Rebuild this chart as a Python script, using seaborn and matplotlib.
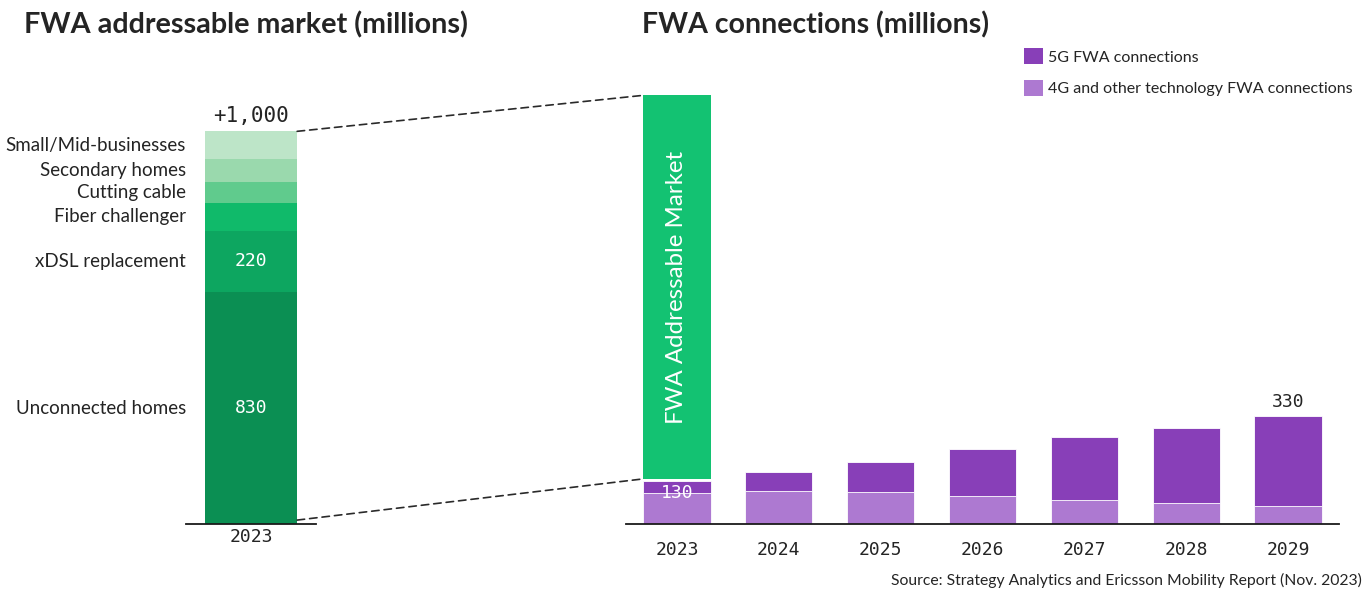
import matplotlib
matplotlib.use("Agg")
import matplotlib.pyplot as plt
from matplotlib.patches import Patch, ConnectionPatch
import numpy as np
import pandas as pd
import seaborn as sns

# ---- FWA addressable market, 2023 (millions), stacked bottom to top ----
segments = ["Unconnected homes", "xDSL replacement", "Fiber challenger",
            "Cutting cable", "Secondary homes", "Small/Mid-businesses"]
segment_values = [830, 220, 100, 75, 80, 100]
segment_colors = ["#0B8F53", "#0DA660", "#10BA6A", "#60CB8D", "#9AD9AD", "#BDE5C8"]
segments_with_value = ["Unconnected homes", "xDSL replacement"]
market_year = "2023"
market_total_label = "+1,000"

# ---- FWA connections (millions) ----
years = ["2023", "2024", "2025", "2026", "2027", "2028", "2029"]
fwa_4g_other = [95, 100, 98, 86, 73, 64, 55]
fwa_5g = [35, 60, 92, 144, 192, 231, 275]

# schematic addressable-market column drawn over the 2023 connections bar
addressable_bottom = 138
addressable_top = 1311

GREEN_MARKET = "#13C272"
PURPLE_5G = "#883FB8"
PURPLE_4G = "#AD79D1"
TEXT = "#242424"
MONO = "DejaVu Sans Mono"

sns.set_style("white")
plt.rcParams["font.family"] = ["Lato", "DejaVu Sans"]

W, H = 1371, 592
fig = plt.figure(figsize=(W / 100, H / 100), dpi=100)


def px_axes(x0, x1, y_top, y_bottom):
    return fig.add_axes([x0 / W, 1 - y_bottom / H, (x1 - x0) / W, (y_bottom - y_top) / H])


axL = px_axes(186, 316, 95, 524)
axR = px_axes(626, 1339, 95, 524)

# ---- left: stacked addressable market bar ----
cum = np.cumsum(segment_values)
for i in reversed(range(len(segments))):
    sns.barplot(x=[market_year], y=[cum[i]], color=segment_colors[i], width=0.71,
                saturation=1, linewidth=0, ax=axL)
axL.set_xlim(-0.5, 0.5)
axL.set_ylim(0, 1535)

for name, val, top in zip(segments, segment_values, cum):
    mid = top - val / 2
    axL.text(-0.5, mid, name, ha="right", va="center", fontsize=13.5, color=TEXT)
    if name in segments_with_value:
        axL.text(0, mid, f"{val}", ha="center", va="center", fontsize=13,
                 color="white", family=MONO)
axL.annotate(market_total_label, (0, cum[-1]), xytext=(0, 4), textcoords="offset points",
             ha="center", va="bottom", fontsize=15, color=TEXT, family=MONO)

# ---- right: stacked connections bars ----
df = pd.DataFrame({"year": years, "g4": fwa_4g_other, "g5": fwa_5g})
df["total"] = df["g4"] + df["g5"]
sns.barplot(data=df, x="year", y="total", color=PURPLE_5G, width=0.66, saturation=1,
            edgecolor="white", linewidth=0.6, ax=axR)
sns.barplot(data=df, x="year", y="g4", color=PURPLE_4G, width=0.66, saturation=1,
            edgecolor="white", linewidth=0.6, ax=axR)
axR.bar(0, addressable_top - addressable_bottom, bottom=addressable_bottom, width=0.66,
        color=GREEN_MARKET, linewidth=0)
axR.text(0, (addressable_top + addressable_bottom) / 2, "FWA Addressable Market",
         rotation=90, ha="center", va="center", fontsize=17.3, color="white")
axR.set_xlim(-0.5, 6.5)
axR.set_ylim(0, 1312)

axR.text(0, df["g4"].iloc[0], f"{df['total'].iloc[0]}", ha="center", va="center",
         fontsize=13, color="white", family=MONO)
axR.annotate(f"{df['total'].iloc[-1]}", (6, df["total"].iloc[-1]), xytext=(0, 4),
             textcoords="offset points", ha="center", va="bottom", fontsize=13,
             color=TEXT, family=MONO)

for ax, pad in ((axL, 3), (axR, 12)):
    for side in ("left", "right", "top"):
        ax.spines[side].set_visible(False)
    ax.spines["bottom"].set_color("#1a1a1a")
    ax.spines["bottom"].set_linewidth(1.3)
    ax.set_yticks([])
    ax.set_xlabel("")
    ax.set_ylabel("")
    ax.tick_params(axis="x", length=0, pad=pad, labelsize=13, labelcolor=TEXT)
    for lab in ax.get_xticklabels():
        lab.set_family(MONO)

# dashed zoom lines from the market column into the connections chart
for yA, yB in ((cum[-1], addressable_top), (14, addressable_bottom)):
    con = ConnectionPatch(xyA=(0.355, yA), coordsA=axL.transData,
                          xyB=(-0.33, yB), coordsB=axR.transData,
                          color="#2a2a2a", lw=1.2, linestyle=(0, (4.5, 3)))
    fig.add_artist(con)

# titles
fig.text(24 / W, 1 - 33 / H, "FWA addressable market (millions)", ha="left",
         va="baseline", fontsize=20.7, fontweight="bold", color=TEXT)
fig.text(642 / W, 1 - 33 / H, "FWA connections (millions)", ha="left",
         va="baseline", fontsize=20.5, fontweight="bold", color=TEXT)

# legend
handles = [Patch(facecolor=PURPLE_5G, edgecolor="none", label="5G FWA connections"),
           Patch(facecolor=PURPLE_4G, edgecolor="none",
                 label="4G and other technology FWA connections")]
fig.legend(handles=handles, loc="upper left", bbox_to_anchor=(1024 / W, 1 - 48 / H),
           frameon=False, fontsize=11.5, handlelength=1.2, handleheight=1.2,
           handletextpad=0.33, labelspacing=0.95, borderpad=0, borderaxespad=0,
           labelcolor=TEXT)

fig.text(1362 / W, 1 - 580 / H,
         "Source: Strategy Analytics and Ericsson Mobility Report (Nov. 2023)",
         ha="right", va="center", fontsize=11.3, color=TEXT)

fig.savefig("out.png", dpi=100)
